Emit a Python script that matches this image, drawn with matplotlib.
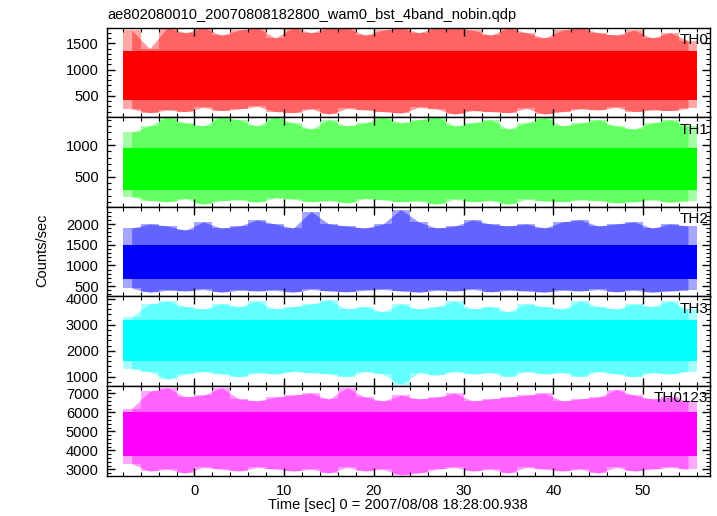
import matplotlib
matplotlib.use("Agg")
import matplotlib.pyplot as plt
from matplotlib.ticker import MultipleLocator

plt.rcParams['font.family'] = ['Liberation Sans', 'DejaVu Sans']

# 2-second time bins: edges and centres (sec)
edges = [-8, -6, -4, -2, 0, 2, 4, 6, 8, 10, 12, 14, 16, 18, 20, 22, 24,
         26, 28, 30, 32, 34, 36, 38, 40, 42, 44, 46, 48, 50, 52, 54, 56]
time = [-7, -5, -3, -1, 1, 3, 5, 7, 9, 11, 13, 15, 17, 19, 21, 23,
        25, 27, 29, 31, 33, 35, 37, 39, 41, 43, 45, 47, 49, 51, 53, 55]

names = ["TH0", "TH1", "TH2", "TH3", "TH0123"]
colors = ["#ff0000", "#00ff00", "#0000ff", "#00ffff", "#ff00ff"]

# highest / lowest rate in each bin
th0_hi = [1750, 1400, 1800, 1700, 1800, 1650, 1750, 1800, 1600, 1800, 1700, 1800, 1800, 1650, 1750, 1800,
          1700, 1800, 1800, 1750, 1650, 1800, 1700, 1600, 1750, 1800, 1700, 1650, 1750, 1600, 1700, 1550]
th0_lo = [250, 180, 230, 200, 280, 220, 250, 300, 200, 180, 250, 150, 260, 230, 200, 170,
          280, 250, 150, 220, 200, 180, 260, 150, 200, 250, 230, 280, 200, 230, 220, 260]
th1_hi = [1200, 1300, 1450, 1350, 1300, 1450, 1400, 1300, 1450, 1350, 1250, 1400, 1300, 1350, 1450, 1350,
          1400, 1450, 1300, 1350, 1400, 1250, 1350, 1450, 1300, 1350, 1400, 1300, 1250, 1350, 1400, 1300]
th1_lo = [180, 120, 100, 150, 60, 120, 130, 90, 160, 140, 100, 120, 80, 150, 130, 100,
          110, 60, 140, 100, 120, 60, 140, 110, 100, 130, 120, 80, 100, 130, 90, 110]
th2_hi = [1900, 2000, 1950, 1850, 2050, 1900, 1950, 2100, 2000, 1900, 2300, 2000, 1950, 1900, 2000, 2350,
          2050, 1900, 1950, 2100, 2000, 1950, 2000, 1900, 2050, 2100, 1950, 2000, 2050, 1900, 2000, 1950]
th2_lo = [450, 350, 400, 380, 420, 350, 400, 380, 400, 350, 420, 380, 360, 400, 420, 380,
          350, 400, 380, 420, 360, 400, 380, 350, 400, 380, 420, 360, 400, 350, 380, 400]
th3_hi = [3300, 3800, 3900, 3700, 3600, 3800, 3700, 3900, 3600, 3700, 3800, 3950, 3600, 3700, 3500, 3800,
          3600, 3700, 3900, 3600, 3700, 3500, 3800, 3700, 3600, 3900, 3700, 3600, 3800, 3700, 3900, 3600]
th3_lo = [1300, 1200, 900, 1100, 1200, 1100, 1000, 1150, 1100, 1200, 1150, 1100, 1000, 1200, 1100, 700,
          1150, 1050, 1200, 1100, 1150, 1000, 1200, 1100, 1150, 1000, 1200, 1100, 1000, 1150, 1100, 1200]
th0123_hi = [6200, 7100, 7300, 6800, 6900, 7300, 6700, 6600, 6800, 6900, 7000, 6700, 7300, 6800, 6600, 6900,
             6700, 6800, 7000, 6600, 6700, 6800, 6900, 7000, 6600, 6700, 6800, 7200, 6900, 6700, 6800, 6600]
th0123_lo = [3300, 2900, 3000, 2800, 3100, 3000, 2900, 3100, 3000, 2900, 3000, 2800, 3100, 2900, 3000, 2700,
             2800, 3000, 3100, 2900, 3000, 2800, 3100, 3000, 2900, 3000, 2800, 3100, 2900, 3000, 3100, 3000]

# dense core of each band (where the trace fills solid)
core_lo = [420, 280, 680, 1600, 3700]
core_hi = [1350, 950, 1500, 3200, 6000]

highs = [th0_hi, th1_hi, th2_hi, th3_hi, th0123_hi]
lows = [th0_lo, th1_lo, th2_lo, th3_lo, th0123_lo]
ylims = [(95, 1800), (22, 1442), (252, 2416), (640, 4090), (2663, 7385)]
majors = [500, 500, 500, 1000, 1000]

fig, axes = plt.subplots(5, 1, figsize=(7.17, 5.16), dpi=100, sharex=True)
fig.subplots_adjust(left=0.1492, right=0.9902, top=0.9467, bottom=0.0781, hspace=0)

for i, ax in enumerate(axes):
    c = colors[i]
    # sparse spikes: blocky envelope plus pointed envelope, both translucent
    ax.stairs(highs[i], edges, baseline=lows[i], fill=True, color=c, alpha=0.35, linewidth=0)
    ax.fill_between(time, lows[i], highs[i], color=c, alpha=0.4, linewidth=0)
    ax.stairs([core_hi[i]] * len(time), edges, baseline=[core_lo[i]] * len(time),
              fill=True, color=c, linewidth=0)
    ax.set_ylim(ylims[i])
    ax.set_xlim(-9.75, 57.45)
    ax.xaxis.set_major_locator(MultipleLocator(10))
    ax.xaxis.set_minor_locator(MultipleLocator(2))
    ax.yaxis.set_major_locator(MultipleLocator(majors[i]))
    ax.yaxis.set_minor_locator(MultipleLocator(majors[i] / 5))
    ax.tick_params(which='both', direction='in', top=True, right=True, labelsize=10.5)
    ax.tick_params(which='major', length=6, width=1, pad=6)
    ax.tick_params(which='minor', length=3, width=0.8)
    for s in ax.spines.values():
        s.set_linewidth(1.0)
    ax.text(0.997, 0.94, names[i], transform=ax.transAxes, ha='right', va='top', fontsize=11)

axes[0].set_title("ae802080010_20070808182800_wam0_bst_4band_nobin.qdp",
                  loc='left', fontsize=10.5, pad=6)
fig.text(42 / 717, 1 - 250 / 516, "Counts/sec", rotation=90, ha='center', va='center', fontsize=10.5)
fig.text(398 / 717, 1 - 505 / 516, "Time [sec] 0 = 2007/08/08 18:28:00.938",
         ha='center', va='center', fontsize=10.5)

fig.savefig("out.png", dpi=100)
